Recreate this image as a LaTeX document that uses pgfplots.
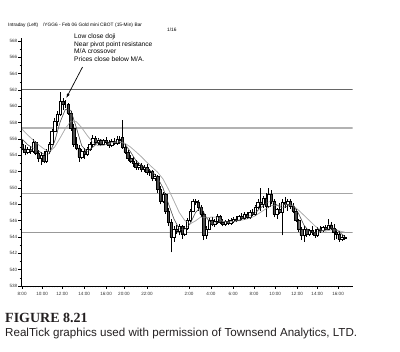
\documentclass[border=0pt]{standalone}
\usepackage{fontspec}
\setmainfont{Liberation Sans}
\newfontfamily\serifb{Liberation Serif}
\usepackage{pgfplots}
\usepackage{pgfplotstable}
\pgfplotsset{compat=1.18}
\usetikzlibrary{arrows.meta}
\definecolor{inkc}{HTML}{231F20}
\pgfplotstableread{
i o h l c
0 555.4 555.9 554.6 554.8
1 554.8 555.3 554.0 554.4
2 554.4 555.0 554.1 554.7
3 554.7 555.1 554.2 554.5
4 554.5 556.0 554.3 555.6
5 555.6 555.8 554.0 554.2
6 554.2 554.6 553.2 553.6
7 553.6 554.4 552.8 554.0
8 554.0 554.5 553.0 553.3
9 553.3 554.8 553.1 554.5
10 554.5 555.6 554.2 555.4
11 555.4 557.2 555.2 557.0
12 557.0 558.6 556.8 558.2
13 558.2 559.4 557.6 559.0
14 559.0 561.8 558.8 560.6
15 560.6 561.0 559.6 560.2
16 560.2 560.8 559.8 560.2
17 560.2 560.4 558.9 559.2
18 559.2 559.4 557.0 557.3
19 557.3 557.8 555.0 555.4
20 555.4 556.2 554.6 554.9
21 554.9 555.3 553.2 553.8
22 553.8 554.8 553.5 554.5
23 554.5 554.9 553.6 554.1
24 554.1 555.0 553.9 554.8
25 554.8 555.6 554.5 555.3
26 555.3 556.5 555.0 556.1
27 556.1 556.4 555.3 555.6
28 555.6 556.1 555.2 555.9
29 555.9 556.0 555.1 555.4
30 555.4 556.0 555.2 555.8
31 555.8 556.2 555.3 555.6
32 555.6 555.9 554.9 555.2
33 555.2 556.0 555.0 555.7
34 555.7 556.1 555.3 555.5
35 555.5 556.4 555.3 556.0
36 556.0 556.3 555.4 555.8
37 556.2 558.3 554.8 555.0
38 555.0 555.4 554.2 554.4
39 554.4 554.7 553.3 553.6
40 553.6 554.0 553.1 553.3
41 553.3 553.8 552.6 553.0
42 553.0 553.4 552.2 552.5
43 552.5 553.0 552.2 552.8
44 552.8 553.1 552.0 552.3
45 552.3 552.8 551.9 552.5
46 552.5 552.9 551.6 551.9
47 551.9 552.3 551.5 552.0
48 552.0 552.2 550.8 551.2
49 551.2 551.7 550.9 551.4
50 551.4 551.6 549.4 549.8
51 549.8 550.3 548.0 548.4
52 548.4 549.5 548.1 549.2
53 549.2 549.4 546.8 547.2
54 547.2 547.6 545.4 545.8
55 545.8 546.2 542.1 544.0
56 544.0 545.3 543.4 545.0
57 545.0 545.5 544.4 544.7
58 544.7 545.6 544.2 545.3
59 545.3 545.5 543.8 544.4
60 544.4 545.4 544.1 545.1
61 545.1 546.3 544.9 546.0
62 546.0 547.4 545.8 547.2
63 547.2 548.6 547.0 548.4
64 548.4 548.7 547.9 548.3
65 548.3 548.5 547.2 547.6
66 547.6 547.9 546.4 546.8
67 546.8 547.2 543.6 544.2
68 544.2 545.4 543.8 545.0
69 545.0 546.3 544.8 546.1
70 546.1 546.4 545.3 545.6
71 545.6 546.2 545.2 545.9
72 545.9 546.8 545.6 546.5
73 546.5 546.7 545.6 545.8
74 545.8 546.2 545.3 545.6
75 545.6 546.1 545.4 545.9
76 545.9 546.2 545.5 545.7
77 545.7 546.3 545.5 546.1
78 545.9 546.4 545.7 546.2
79 546.2 546.6 545.8 546.0
80 546.0 546.7 545.9 546.5
81 546.5 546.9 546.1 546.3
82 546.3 547.0 546.1 546.8
83 546.8 547.1 546.2 546.4
84 546.4 547.3 546.2 547.0
85 547.0 547.4 546.6 546.8
86 546.8 547.9 546.6 547.7
87 547.7 548.6 547.4 548.3
88 548.3 550.0 547.2 548.0
89 548.0 549.0 547.6 548.8
90 548.8 549.4 546.4 547.8
91 547.8 550.0 547.5 549.2
92 549.2 549.8 548.0 548.4
93 548.4 548.6 546.4 546.8
94 546.8 547.6 546.2 547.4
95 547.4 548.2 546.8 547.0
96 547.0 548.6 544.2 548.2
97 548.2 548.9 547.6 548.0
98 548.0 548.6 547.2 548.4
99 548.4 548.7 547.4 547.8
100 547.8 548.2 546.9 547.2
101 547.2 547.4 545.8 546.0
102 546.0 546.2 544.6 545.0
103 545.0 545.2 543.6 544.2
104 544.2 545.3 543.4 544.9
105 544.9 545.1 544.0 544.3
106 544.3 545.0 544.1 544.8
107 544.8 545.3 544.3 544.6
108 544.6 545.0 543.9 544.2
109 544.2 545.2 544.0 545.0
110 545.0 545.3 544.5 544.8
111 544.8 545.4 544.6 545.2
112 545.2 545.5 544.9 545.0
113 545.0 546.2 544.9 545.5
114 545.5 545.8 544.8 545.1
115 545.1 545.6 543.6 544.6
116 544.6 545.0 543.8 544.3
117 544.3 544.7 543.4 543.7
118 543.7 544.2 543.5 544.0
119 544.0 544.3 543.6 543.8
}\candles
\pgfplotstableread{
i f s
0 556.0 557.2
2 555.3 556.5
4 554.9 555.9
6 554.52 555.3
8 554.14 554.8
10 554.16 554.41
12 555.68 555.0
14 558.04 556.1
16 559.64 557.28
18 559.5 558.18
20 557.4 558.12
22 555.18 557.38
24 554.42 556.44
26 554.96 555.62
28 555.54 555.17
30 555.76 555.22
32 555.58 555.42
34 555.56 555.6
36 555.64 555.66
38 555.34 555.46
40 554.42 555.01
42 553.36 554.43
44 552.78 553.83
46 552.4 553.15
48 551.98 552.53
50 551.26 551.93
52 550.0 551.1
54 548.08 549.85
56 546.24 548.44
58 544.96 547.0
60 544.9 546.03
62 545.6 545.6
64 547.0 545.97
66 547.66 546.46
68 546.38 546.34
70 545.54 546.44
72 545.82 546.42
74 545.88 545.92
76 545.9 545.79
78 545.9 545.88
80 546.1 546.0
82 546.36 546.13
84 546.6 546.3
86 546.94 546.59
88 547.56 547.02
90 548.12 547.45
92 548.44 547.85
94 547.92 547.88
96 547.56 547.92
98 547.8 547.99
100 547.92 547.83
102 546.88 547.28
104 545.46 546.66
106 544.64 546.02
108 544.56 545.37
110 544.68 544.87
112 544.84 544.72
114 545.12 544.87
116 544.9 544.83
118 544.34 544.66
119 544.08 544.6
}\mavg
\pgfplotsset{base/.style={x=2.71pt,y=8.17pt,xmin=-0.4,xmax=122,ymin=538,ymax=568.4,
  anchor=south west,at={(21pt,66pt)}}}
\begin{document}
\begin{tikzpicture}
\path[use as bounding box] (0pt,0pt) rectangle (400pt,352pt);
% layer 1: levels, averages and wicks
\begin{axis}[base, hide axis]
\addplot[color=black!60, line width=0.9pt] coordinates {(-0.4,562.1) (122,562.1)};
\addplot[color=black!30, line width=1.3pt] coordinates {(-0.4,557.35) (122,557.35)};
\addplot[color=black!35, line width=1.2pt] coordinates {(-0.4,549.35) (122,549.35)};
\addplot[color=black!40, line width=1.1pt] coordinates {(-0.4,544.55) (122,544.55)};
\addplot[color=black!70, line width=0.5pt] table[x=i, y=f] {\mavg};
\addplot[color=black!35, line width=0.6pt] table[x=i, y=s] {\mavg};
\addplot[draw=none, mark=none, error bars/.cd, y dir=plus, y explicit, error mark=none,
  error bar style={draw=black, line width=0.45pt}]
  table[x=i, y=l, y error expr=\thisrow{h}-\thisrow{l}] {\candles};
\end{axis}
% layer 2: candle bodies
\begin{axis}[base, hide axis, ybar stacked, bar width=0.9]
\addplot[draw=none, fill=none] table[x=i, y expr={min(\thisrow{o},\thisrow{c})}] {\candles};
\addplot[draw=black, fill=white, line width=0.4pt] table[x=i, y expr={max(\thisrow{c}-\thisrow{o},0)}] {\candles};
\addplot[draw=black, fill=black!70, line width=0.4pt] table[x=i, y expr={max(\thisrow{o}-\thisrow{c},0)}] {\candles};
\end{axis}
% layer 3: moving averages on top and axes
\begin{axis}[base,
  axis x line*=bottom, axis y line*=left,
  axis line style={black, line width=0.5pt},
  tick align=outside,
  major tick length=2.6pt, minor tick length=1.4pt,
  tick style={black, line width=0.35pt},
  ytick={538,540,...,568}, minor ytick={539,541,...,567},
  xtick={0,7.4,14.8,22.9,31.0,37.6,46.1,61.6,69.7,77.9,85.6,93.4,101.5,108.9,116.6},
  xticklabels={8:00,10:00,12:00,14:00,16:00,20:00,22:00,2:00,4:00,6:00,8:00,10:00,12:00,14:00,16:00},
  minor xtick={0,1,...,121},
  tick label style={font=\fontsize{4.6}{5}\selectfont, text=black!80},
  /pgf/number format/assume math mode=true,
  yticklabel style={inner sep=1pt},
  xticklabel style={inner sep=3pt},
  clip=false]
\addplot[color=black!60, line width=0.45pt, opacity=0.6] table[x=i, y=f] {\mavg};
\addplot[color=black!30, line width=0.55pt, opacity=0.6] table[x=i, y=s] {\mavg};
\draw[black, line width=0.7pt, -{Latex[length=4.5pt,width=3pt]}] (axis cs:22.3,564.8) -- (axis cs:16.3,561.0);
\end{axis}
% texts
\node[anchor=west, inner sep=0pt, font=\fontsize{4.8}{5}\selectfont] at (8pt,327pt) {Intraday\,\,(Left)\quad/YGG6 - Feb 06\,\,Gold mini CBOT\,\,(15-Min)\,\,Bar};
\node[anchor=west, inner sep=0pt, font=\fontsize{4.8}{5}\selectfont] at (167pt,322pt) {1/16};
\node[anchor=north west, inner sep=0pt, align=left, font=\fontsize{6.6}{7.4}\selectfont] at (74pt,318pt)
  {Low close doji\\Near pivot point resistance\\M/A crossover\\Prices close below M/A.};
\node[anchor=west, inner sep=0pt, text=inkc, font=\serifb\bfseries\fontsize{14}{15}\selectfont] at (5pt,34pt) {FIGURE 8.21};
\node[anchor=west, inner sep=0pt, text=inkc, font=\fontsize{11.6}{13}\selectfont] at (5pt,18pt) {RealTick graphics used with permission of Townsend Analytics, LTD.};
\end{tikzpicture}
\end{document}
